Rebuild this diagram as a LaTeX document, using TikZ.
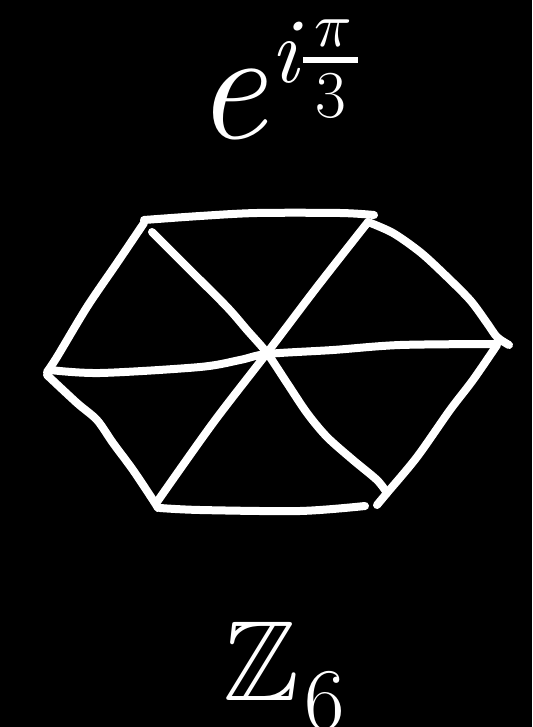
\documentclass[tikz,border=0pt]{standalone}
\usepackage{amssymb}
\usepackage{fontspec}
\begin{document}
\begin{tikzpicture}[x=1pt,y=-1pt,
  stroke/.style={white,line width=8pt,line cap=round,line join=round},
  lbl/.style={white,inner sep=0pt,anchor=base}]
\fill[black] (0,0) rectangle (532,727);
\useasboundingbox (0,0) rectangle (532,727);
% hexagon edges
\draw[stroke] plot[smooth] coordinates {(144,220) (200,216) (257,213) (340,213) (374,215)};
\draw[stroke] plot[smooth] coordinates {(144,223) (117,263) (87,307) (57,357) (47,372)};
\draw[stroke] plot[smooth] coordinates {(47,375) (77,403) (97,420) (113,443) (133,470) (153,500) (158,508)};
\draw[stroke] plot[smooth] coordinates {(160,508) (200,510) (300,511) (365,506)};
\draw[stroke] plot[smooth] coordinates {(377,505) (387,493) (417,457) (450,410) (473,380) (497,345)};
\draw[stroke] plot[smooth] coordinates {(368,222) (393,233) (420,252) (443,273) (470,300) (487,323) (497,337) (509,345)};
% diagonals
\draw[stroke] plot[smooth] coordinates {(152,232) (187,267) (227,307) (247,330) (267,353) (287,383) (307,413) (327,437) (353,460) (377,480) (387,493)};
\draw[stroke] plot[smooth] coordinates {(368,222) (317,287) (267,353) (213,423) (157,502)};
\draw[stroke] plot[smooth] coordinates {(50,370) (100,373) (200,367) (240,360) (267,354) (333,350) (400,345) (497,344)};
% formula
\node[lbl,font=\fontsize{158}{158}\selectfont\itshape] (e) at (231,139) {e};
\node[lbl,font=\fontsize{93}{93}\selectfont\itshape] (i) at (284,83) {i};
\node[lbl,scale=6.2] (pi) at (333,47) {$\pi$};
\fill[white] (303,57) rectangle (358,63);
\node[lbl,font=\fontsize{67}{67}\selectfont] (three) at (331,118) {3};
% Z_6
\node[lbl,font=\fontsize{114}{114}\selectfont] (Z) at (261,700) {$\mathbb{Z}$};
\node[lbl,font=\fontsize{88}{88}\selectfont] (six) at (325,729) {6};
\end{tikzpicture}
\end{document}
